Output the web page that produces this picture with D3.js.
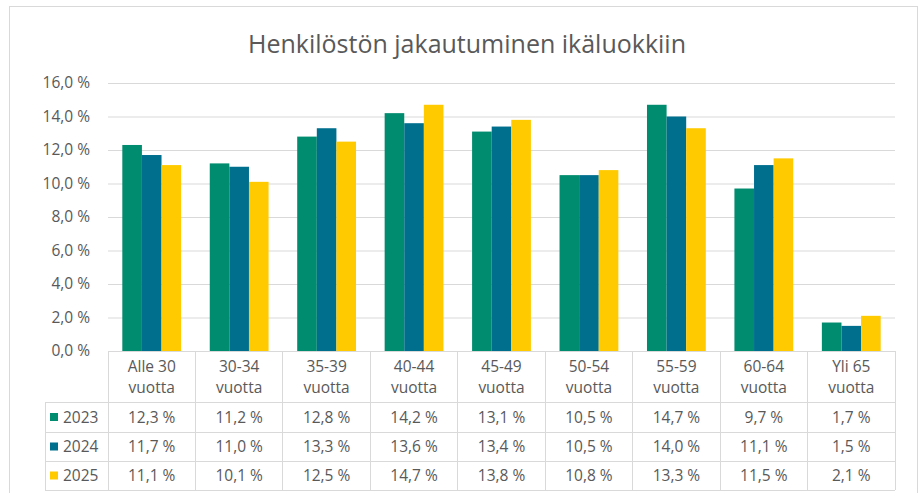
<!DOCTYPE html>
<html>
<head>
<meta charset="utf-8">
<script src="https://cdn.jsdelivr.net/npm/d3@7"></script>
<style>
  body { margin: 0; background: #fff; }
  text { font-family: "Open Sans", "Noto Sans", sans-serif; fill: #595959; }
</style>
</head>
<body>
<script>
// data
var categories = [["Alle 30", "vuotta"], ["30-34", "vuotta"], ["35-39", "vuotta"], ["40-44", "vuotta"],
  ["45-49", "vuotta"], ["50-54", "vuotta"], ["55-59", "vuotta"], ["60-64", "vuotta"], ["Yli 65", "vuotta"]]
var years = ["2023", "2024", "2025"]
var v2023 = [12.3, 11.2, 12.8, 14.2, 13.1, 10.5, 14.7, 9.7, 1.7]
var v2024 = [11.7, 11.0, 13.3, 13.6, 13.4, 10.5, 14.0, 11.1, 1.5]
var v2025 = [11.1, 10.1, 12.5, 14.7, 13.8, 10.8, 13.3, 11.5, 2.1]
var yTicks = [0, 2, 4, 6, 8, 10, 12, 14, 16]
var colors = ["#008c6e", "#006f8e", "#ffcb00"]

var series = [v2023, v2024, v2025]
var catKeys = categories.map(function(c) { return c.join(" ") })

var width = 922,
    height = 493;

var fi = d3.formatLocale({decimal: ",", thousands: " ", grouping: [3], currency: ["", ""]})
var pct = function(d) { return fi.format(".1f")(d) + " %" }

var svg = d3.select("body").append("svg")
    .attr("width", width)
    .attr("height", height);

// frame
svg.append("rect")
    .attr("x", 9.5).attr("y", 6.5)
    .attr("width", 908).attr("height", 520)
    .attr("fill", "none").attr("stroke", "#d9d9d9");

svg.append("text")
    .attr("x", 467).attr("y", 53)
    .attr("text-anchor", "middle")
    .style("font-size", "25px")
    .text("Henkilöstön jakautuminen ikäluokkiin");

var x = d3.scaleBand().domain(catKeys).range([108, 895]);
var x1 = d3.scaleBand().domain(years).range([0, x.bandwidth()]).paddingOuter(0.73);
var y = d3.scaleLinear().domain([0, 16]).range([351, 83]);

// grid + y axis
var yAxis = d3.axisLeft(y)
    .tickValues(yTicks)
    .tickSize(-(895 - 108))
    .tickPadding(18)
    .tickFormat(pct);

var ga = svg.append("g")
    .attr("transform", "translate(108,0)")
    .call(yAxis);
ga.select(".domain").remove();
ga.selectAll(".tick line").attr("stroke", "#d9d9d9");
ga.selectAll(".tick text").style("font-size", "15.5px").attr("fill", "#595959");

// bars
var groups = svg.append("g").selectAll("g")
    .data(catKeys)
    .enter().append("g")
    .attr("transform", function(d) { return "translate(" + x(d) + ",0)" });

groups.selectAll("rect")
    .data(function(d, i) { return years.map(function(yr, j) { return {year: yr, value: series[j][i], j: j} }) })
    .enter().append("rect")
    .attr("x", function(d) { return x1(d.year) })
    .attr("width", x1.bandwidth())
    .attr("y", function(d) { return y(d.value) })
    .attr("height", function(d) { return y(0) - y(d.value) })
    .attr("fill", function(d) { return colors[d.j] });

// data table
var rowY = [351, 402, 432, 461, 490];
var legX = 45;
var tg = svg.append("g").attr("stroke", "#d9d9d9").attr("shape-rendering", "crispEdges");

tg.append("line").attr("x1", 108).attr("x2", 895).attr("y1", rowY[0]).attr("y2", rowY[0]);
rowY.slice(1).forEach(function(ry) {
  tg.append("line").attr("x1", legX).attr("x2", 895).attr("y1", ry).attr("y2", ry);
});
tg.append("line").attr("x1", legX).attr("x2", legX).attr("y1", rowY[1]).attr("y2", rowY[4]);
catKeys.forEach(function(c) {
  tg.append("line").attr("x1", x(c)).attr("x2", x(c)).attr("y1", rowY[0]).attr("y2", rowY[4]);
});
tg.append("line").attr("x1", 895).attr("x2", 895).attr("y1", rowY[0]).attr("y2", rowY[4]);

// header labels
categories.forEach(function(c, i) {
  var t = svg.append("text")
      .attr("text-anchor", "middle")
      .style("font-size", "15.5px");
  t.append("tspan").attr("x", x(catKeys[i]) + x.bandwidth() / 2).attr("y", 372).text(c[0]);
  t.append("tspan").attr("x", x(catKeys[i]) + x.bandwidth() / 2).attr("y", 393).text(c[1]);
});

// value rows
years.forEach(function(yr, j) {
  var cy = (rowY[j + 1] + rowY[j + 2]) / 2;
  svg.append("rect")
      .attr("x", 50).attr("y", cy - 4)
      .attr("width", 8).attr("height", 8)
      .attr("fill", colors[j]);
  svg.append("text")
      .attr("x", 63).attr("y", cy + 5.5)
      .style("font-size", "15.5px")
      .text(yr);
  series[j].forEach(function(v, i) {
    svg.append("text")
        .attr("x", x(catKeys[i]) + x.bandwidth() / 2)
        .attr("y", cy + 5.5)
        .attr("text-anchor", "middle")
        .style("font-size", "15.5px")
        .text(pct(v));
  });
});
</script>
</body>
</html>
